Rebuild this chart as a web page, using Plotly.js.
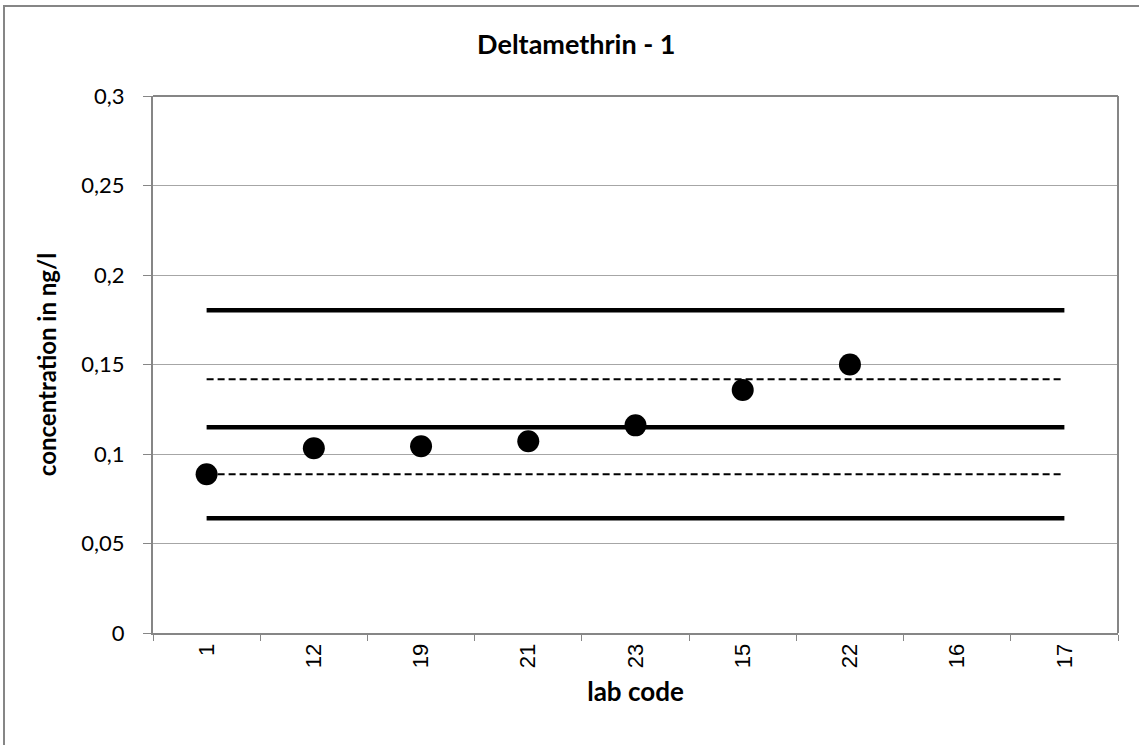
<!DOCTYPE html>
<html>
<head>
<meta charset="utf-8">
<script src="https://cdn.plot.ly/plotly-3.0.1.min.js"></script>
<style>
html,body{margin:0;padding:0;background:#fff;}
#chart{width:1139px;height:745px;}
</style>
</head>
<body>
<div id="chart"></div>
<script>
// Data
const labCodes = ['1', '12', '19', '21', '23', '15', '22', '16', '17'];
const labValues = [0.0887, 0.1032, 0.1043, 0.1071, 0.116, 0.1358, 0.15, null, null];
const lineEnds = ['1', '17'];
const upperLimit = [0.1803, 0.1803];
const upperTolerance = [0.1418, 0.1418];
const assignedValue = [0.115, 0.115];
const lowerTolerance = [0.0887, 0.0887];
const lowerLimit = [0.0641, 0.0641];
const yTickVals = [0, 0.05, 0.1, 0.15, 0.2, 0.25, 0.3];

const solid = {color: '#000', width: 4.5};
const dashed = {color: '#000', width: 2, dash: '7px,4px'};

const traces = [
  {x: lineEnds, y: upperLimit, mode: 'lines', line: solid, hoverinfo: 'skip'},
  {x: lineEnds, y: upperTolerance, mode: 'lines', line: dashed, hoverinfo: 'skip'},
  {x: lineEnds, y: assignedValue, mode: 'lines', line: solid, hoverinfo: 'skip'},
  {x: lineEnds, y: lowerTolerance, mode: 'lines', line: dashed, hoverinfo: 'skip'},
  {x: lineEnds, y: lowerLimit, mode: 'lines', line: solid, hoverinfo: 'skip'},
  {x: labCodes, y: labValues, mode: 'markers', marker: {color: '#000', size: 22}}
];

const W = 1139, H = 745, L = 153, R = 21, T = 96, B = 112;
const pw = W - L - R, ph = H - T - B;

const layout = {
  width: W, height: H,
  margin: {l: L, r: R, t: T, b: B, pad: 0},
  paper_bgcolor: '#fff', plot_bgcolor: '#fff',
  showlegend: false,
  separators: ', ',
  title: {text: '<b>Deltamethrin - 1</b>', x: 0.506, xanchor: 'center', y: 1 - 45 / H, yanchor: 'middle',
          font: {family: 'Lato, sans-serif', size: 27, color: '#000'}},
  xaxis: {
    type: 'category', categoryorder: 'array', categoryarray: labCodes,
    range: [-0.5, 8.5],
    showgrid: false, zeroline: false,
    showline: true, linecolor: '#868686', linewidth: 2,
    ticks: 'outside', ticklen: 6, tickcolor: '#868686', tickwidth: 1, tickson: 'boundaries',
    tickangle: -90,
    tickfont: {family: 'Liberation Sans, Arial, sans-serif', size: 22, color: '#000'},
    title: {text: '<b>lab code</b>', standoff: 16, font: {family: 'Lato, sans-serif', size: 26, color: '#000'}},
    fixedrange: true
  },
  yaxis: {
    range: [0, 0.3], tickvals: yTickVals,
    showgrid: true, gridcolor: '#a6a6a6', gridwidth: 1,
    zeroline: false,
    showline: true, linecolor: '#868686', linewidth: 2, mirror: false,
    ticks: 'outside', ticklen: 8, tickcolor: '#868686', tickwidth: 1,
    ticklabelstandoff: 14,
    tickfont: {family: 'Lato, sans-serif', size: 22, color: '#000'},
    title: {text: '<b>concentration in ng/l</b>', standoff: 18, font: {family: 'Lato, sans-serif', size: 24, color: '#000'}},
    fixedrange: true
  },
  shapes: [
    {type: 'line', xref: 'paper', yref: 'paper', x0: 1, x1: 1, y0: 0, y1: 1, line: {color: '#868686', width: 2}},
    {type: 'line', xref: 'paper', yref: 'paper', x0: 0, x1: 1, y0: 1, y1: 1, line: {color: '#868686', width: 2}},
    {type: 'rect', xref: 'paper', yref: 'paper', layer: 'below',
     x0: (4 - L) / pw, x1: (W + 10 - L) / pw, y0: -(H + 10 - (H - B)) / ph, y1: 1 + (T - 6) / ph,
     line: {color: '#868686', width: 2}}
  ]
};

Plotly.newPlot('chart', traces, layout, {displayModeBar: false, staticPlot: true});
</script>
</body>
</html>
